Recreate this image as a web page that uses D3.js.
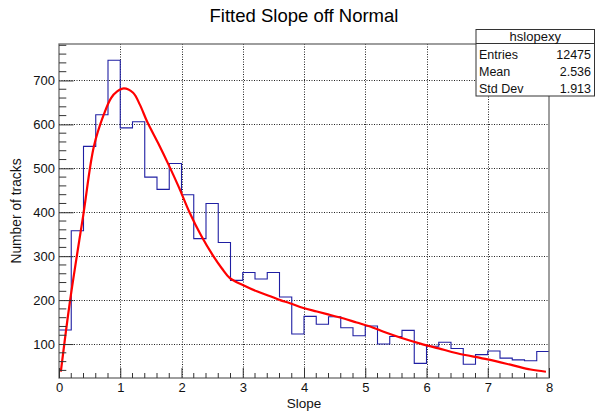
<!DOCTYPE html>
<html><head><meta charset="utf-8">
<script src="https://cdn.jsdelivr.net/npm/d3@7"></script>
<style>html,body{margin:0;padding:0;background:#fff;} svg{display:block;}</style>
</head><body>
<svg id="c" width="596" height="414"></svg>
<script>
// ---- data ----
const binLowEdges = [0,0.2,0.4,0.6,0.8,1.0,1.2,1.4,1.6,1.8,2.0,2.2,2.4,2.6,2.8,3.0,3.2,3.4,3.6,3.8,
                     4.0,4.2,4.4,4.6,4.8,5.0,5.2,5.4,5.6,5.8,6.0,6.2,6.4,6.6,6.8,7.0,7.2,7.4,7.6,7.8];
const binHighEdge = 8;
const counts = [132,358,550,622,746,592,606,480,452,511,440,340,420,331,245,263,248,263,207,123,
                163,145,162,137,119,141,100,117,131,56,95,104,90,54,76,84,68,64,62,83];
const fitX = [0.03,0.18,0.40,0.57,0.73,0.85,0.95,1.06,1.21,1.32,1.44,1.62,1.80,1.96,2.13,2.32,2.52,2.66,2.79,
              3.01,3.23,3.45,3.61,3.77,3.99,4.21,4.43,4.65,4.86,5.08,5.30,5.57,5.90,6.20,6.50,7.00,7.40,7.70,7.95];
const fitY = [37,198,397,550,622,660,675,682,672,645,606,557,505,456,400,347,300,272,250,
              234,220,209,200,193,182,174,166,158,149,140,128,115,101,90,79,65,52,42,37];
const xTickValues = [0,1,2,3,4,5,6,7,8];
const yTickValues = [100,200,300,400,500,600,700];
const chartTitle = "Fitted Slope off Normal";
const xTitle = "Slope";
const yTitle = "Number of tracks";
const statsName = "hslopexy";
const statsLabels = ["Entries","Mean","Std Dev"];
const statsValues = ["12475","2.536","1.913"];

// ---- layout ----
const L = 59, R = 549, T = 44, B = 378;
const FONT = "'Liberation Sans', Arial, Helvetica, sans-serif";
const svg = d3.select("#c");
const x = d3.scaleLinear().domain([0, 8]).range([L, R]);
const y = d3.scaleLinear().domain([22.7, 783]).range([B, T]);

// grid
const grid = svg.append("g").attr("stroke", "#222").attr("stroke-width", 1).attr("stroke-dasharray", "1,1.5");
grid.selectAll(".gx").data(xTickValues.filter(v => v > 0 && v < 8)).join("line")
  .attr("x1", d => Math.round(x(d)) + 0.5).attr("x2", d => Math.round(x(d)) + 0.5)
  .attr("y1", T).attr("y2", B);
grid.selectAll(".gy").data(yTickValues).join("line")
  .attr("y1", d => Math.round(y(d)) + 0.5).attr("y2", d => Math.round(y(d)) + 0.5)
  .attr("x1", L).attr("x2", R);

// histogram
const histPts = binLowEdges.map((e, i) => [e, counts[i]]);
histPts.push([binHighEdge, counts[counts.length - 1]]);
const histLine = d3.line().x(d => x(d[0])).y(d => y(d[1])).curve(d3.curveStepAfter);
svg.append("path").attr("d", histLine(histPts))
  .attr("fill", "none").attr("stroke", "#1f1fa3").attr("stroke-width", 1.1);

// fit
const fitLine = d3.line().x((d, i) => x(fitX[i])).y((d, i) => y(fitY[i])).curve(d3.curveCatmullRom.alpha(0.5));
svg.append("path").attr("d", fitLine(fitX))
  .attr("fill", "none").attr("stroke", "#ff0000").attr("stroke-width", 2.2);

// frame
svg.append("rect").attr("x", L).attr("y", T).attr("width", R - L).attr("height", B - T)
  .attr("fill", "none").attr("stroke", "#6a6a6a").attr("stroke-width", 1.3);

// x axis ticks (inside, upward)
const xAxis = d3.axisBottom(x).tickValues(xTickValues).tickSize(-10).tickPadding(4.5)
  .tickFormat(d3.format("d"));
const gx = svg.append("g").attr("transform", `translate(0,${B})`).call(xAxis);
gx.select(".domain").remove();
gx.selectAll("line").attr("stroke", "#333");
gx.selectAll("text").attr("font-family", FONT).attr("font-size", 13).attr("fill", "#111");
const xMinor = d3.range(0, 8.001, 0.2).filter(v => Math.abs(v - Math.round(v)) > 1e-6);
svg.append("g").selectAll("line").data(xMinor).join("line")
  .attr("x1", d => x(d)).attr("x2", d => x(d)).attr("y1", B).attr("y2", B - 5)
  .attr("stroke", "#333");

// y axis ticks (inside, rightward)
const yAxis = d3.axisLeft(y).tickValues(yTickValues).tickSize(-14.5).tickPadding(4)
  .tickFormat(d3.format("d"));
const gy = svg.append("g").attr("transform", `translate(${L},0)`).call(yAxis);
gy.select(".domain").remove();
gy.selectAll("line").attr("stroke", "#333");
gy.selectAll("text").attr("font-family", FONT).attr("font-size", 13).attr("fill", "#111");
const yMinor = d3.range(40, 783, 20).filter(v => v % 100 !== 0);
svg.append("g").selectAll("line").data(yMinor).join("line")
  .attr("y1", d => y(d)).attr("y2", d => y(d)).attr("x1", L).attr("x2", L + 7.3)
  .attr("stroke", "#333");

// titles
svg.append("text").attr("x", 304).attr("y", 22).attr("text-anchor", "middle")
  .attr("font-family", FONT).attr("font-size", 18.5).attr("fill", "#000").text(chartTitle);
svg.append("text").attr("x", (L + R) / 2).attr("y", 407.5).attr("text-anchor", "middle")
  .attr("font-family", FONT).attr("font-size", 13.5).attr("fill", "#111").text(xTitle);
svg.append("text").attr("transform", `translate(21,${(T + B) / 2}) rotate(-90)`).attr("text-anchor", "middle")
  .attr("font-family", FONT).attr("font-size", 13.8).attr("fill", "#111").text(yTitle);

// stats box
const sb = svg.append("g");
const bx0 = 476, bx1 = 594.5, by0 = 29.5, by1 = 96;
sb.append("rect").attr("x", bx0).attr("y", by0).attr("width", bx1 - bx0).attr("height", by1 - by0)
  .attr("fill", "#fff").attr("stroke", "#333").attr("stroke-width", 1);
sb.append("line").attr("x1", bx0).attr("x2", bx1).attr("y1", 43.5).attr("y2", 43.5)
  .attr("stroke", "#333");
sb.append("text").attr("x", (bx0 + bx1) / 2).attr("y", 40.5).attr("text-anchor", "middle")
  .attr("font-family", FONT).attr("font-size", 13).attr("fill", "#111").text(statsName);
const rowY = [59, 76, 93];
statsLabels.forEach((lab, i) => {
  sb.append("text").attr("x", bx0 + 3).attr("y", rowY[i])
    .attr("font-family", FONT).attr("font-size", 12.5).attr("fill", "#111").text(lab);
  sb.append("text").attr("x", bx1 - 3.5).attr("y", rowY[i]).attr("text-anchor", "end")
    .attr("font-family", FONT).attr("font-size", 12.5).attr("fill", "#111").text(statsValues[i]);
});
</script>
</body></html>
